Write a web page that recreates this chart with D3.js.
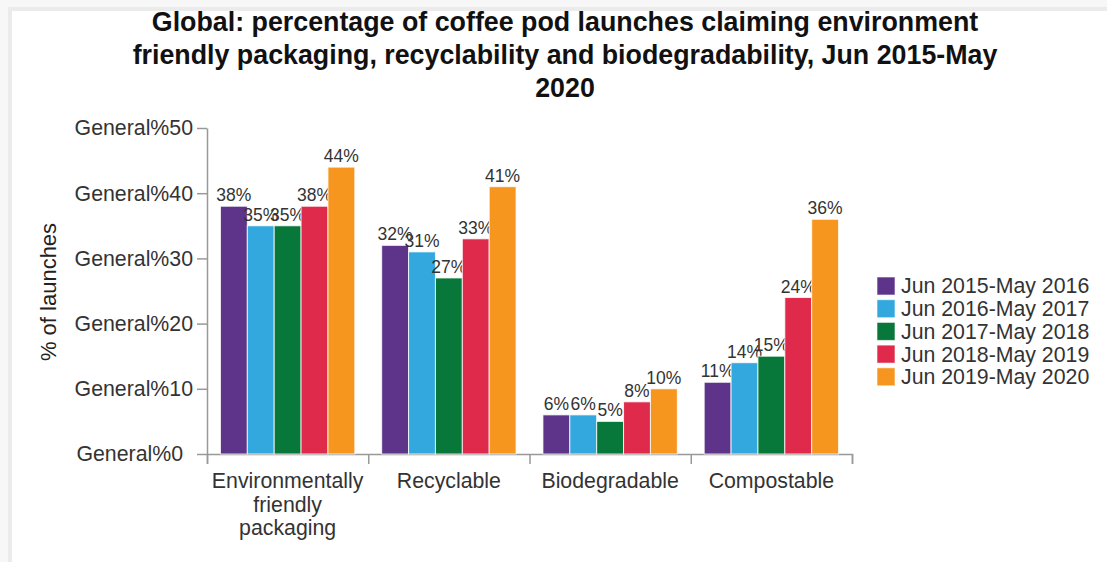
<!DOCTYPE html>
<html>
<head>
<meta charset="utf-8">
<script src="https://cdn.jsdelivr.net/npm/d3@7"></script>
<style>
  html, body { margin: 0; padding: 0; background: #f7f7f7; }
  svg { display: block; font-family: "Liberation Sans", Arial, sans-serif; }
</style>
</head>
<body>
<svg id="chart" width="1107" height="562"></svg>
<script>
// Coffee pod launches with environmental claims, by claim type and year
const categories = ["Environmentally friendly packaging", "Recyclable", "Biodegradable", "Compostable"];
const categoryLines = [["Environmentally", "friendly", "packaging"], ["Recyclable"], ["Biodegradable"], ["Compostable"]];
const seriesNames = ["Jun 2015-May 2016", "Jun 2016-May 2017", "Jun 2017-May 2018", "Jun 2018-May 2019", "Jun 2019-May 2020"];
const v2016 = [38, 32, 6, 11];
const v2017 = [35, 31, 6, 14];
const v2018 = [35, 27, 5, 15];
const v2019 = [38, 33, 8, 24];
const v2020 = [44, 41, 10, 36];
const seriesValues = [v2016, v2017, v2018, v2019, v2020];
const colors = ["#5e348a", "#33a8df", "#07773a", "#df2a4b", "#f7961f"];
const yTicks = [0, 10, 20, 30, 40, 50];
const titleLines = [
  "Global: percentage of coffee pod launches claiming environment",
  "friendly packaging, recyclability and biodegradability, Jun 2015-May",
  "2020"
];

const svg = d3.select("#chart");
const labelSize = 21.3;

// white card
svg.append("rect").attr("x", 10).attr("y", 9).attr("width", 1200).attr("height", 600)
  .attr("fill", "#fff").attr("stroke", "#ebebeb").attr("stroke-width", 4);

const margin = { left: 207, right: 852, top: 128, bottom: 454 };

const x0 = d3.scaleBand().domain(categories).range([margin.left, margin.right]).padding(0);
const x1 = d3.scaleBand().domain(seriesNames).range([0, x0.bandwidth()]).paddingInner(0).paddingOuter(0.5);
const y = d3.scaleLinear().domain([0, 50]).range([margin.bottom, margin.top]);

// title
svg.append("g").selectAll("text").data(titleLines).join("text")
  .attr("x", 565).attr("y", (d, i) => 31 + i * 33)
  .attr("text-anchor", "middle").attr("font-size", 26.8).attr("font-weight", "bold")
  .attr("fill", "#111").text(d => d);

// y axis
const yAxis = svg.append("g").attr("transform", `translate(${margin.left},0)`)
  .call(d3.axisLeft(y).tickValues(yTicks).tickFormat(d => "General%" + d).tickSize(10).tickSizeOuter(0).tickPadding(4));
yAxis.selectAll("path, line").attr("stroke", "#999").attr("stroke-width", 1.5);
yAxis.selectAll("text").attr("font-size", labelSize).attr("fill", "#333")
  .attr("font-family", "'Liberation Sans', Arial, sans-serif")
  .attr("dx", d => d === 0 ? -10 : 0);

// x axis: boundary ticks between groups
const xb = d3.scaleLinear().domain([0, categories.length]).range([margin.left, margin.right]);
const xAxis = svg.append("g").attr("transform", `translate(0,${margin.bottom})`)
  .call(d3.axisBottom(xb).tickValues(d3.range(categories.length + 1)).tickFormat("").tickSize(10).tickSizeOuter(10));
xAxis.selectAll("path, line").attr("stroke", "#999").attr("stroke-width", 1.5);

// x category labels (wrapped)
const xl = svg.append("g").selectAll("text").data(categories).join("text")
  .attr("x", d => x0(d) + x0.bandwidth() / 2).attr("y", 488)
  .attr("text-anchor", "middle").attr("font-size", labelSize).attr("fill", "#333");
xl.each(function (d, i) {
  d3.select(this).selectAll("tspan").data(categoryLines[i]).join("tspan")
    .attr("x", x0(d) + x0.bandwidth() / 2).attr("dy", (t, j) => j === 0 ? 0 : 23.5).text(t => t);
});

// y axis title
svg.append("text").attr("transform", "translate(56,292) rotate(-90)")
  .attr("text-anchor", "middle").attr("font-size", 22).attr("fill", "#222").text("% of launches");

// bars
const groups = svg.append("g").selectAll("g").data(categories).join("g")
  .attr("transform", d => `translate(${x0(d)},0)`);
const cells = groups.selectAll("g").data((d, ci) => seriesNames.map((s, si) => ({ s, si, v: seriesValues[si][ci] })))
  .join("g");
cells.append("rect")
  .attr("x", d => x1(d.s)).attr("width", x1.bandwidth())
  .attr("y", d => y(d.v)).attr("height", d => y(0) - y(d.v))
  .attr("fill", d => colors[d.si]).attr("stroke", "#fff").attr("stroke-width", 1).attr("stroke-opacity", 0.8);
cells.append("text")
  .attr("x", d => x1(d.s) + x1.bandwidth() / 2).attr("y", d => y(d.v) - 5)
  .attr("text-anchor", "middle").attr("font-size", 17.5).attr("fill", "#333")
  .text(d => d.v + "%");

// legend
const legend = svg.append("g").selectAll("g").data(seriesNames).join("g")
  .attr("transform", (d, i) => `translate(877,${286 + i * 22.7})`);
legend.append("rect").attr("x", 0).attr("y", -9).attr("width", 18).attr("height", 18)
  .attr("fill", (d, i) => colors[i]).attr("stroke", "#fff").attr("stroke-opacity", 0.6);
legend.append("text").attr("x", 24).attr("y", 0).attr("dy", "0.35em")
  .attr("font-size", labelSize).attr("fill", "#333").text(d => d);
</script>
</body>
</html>
